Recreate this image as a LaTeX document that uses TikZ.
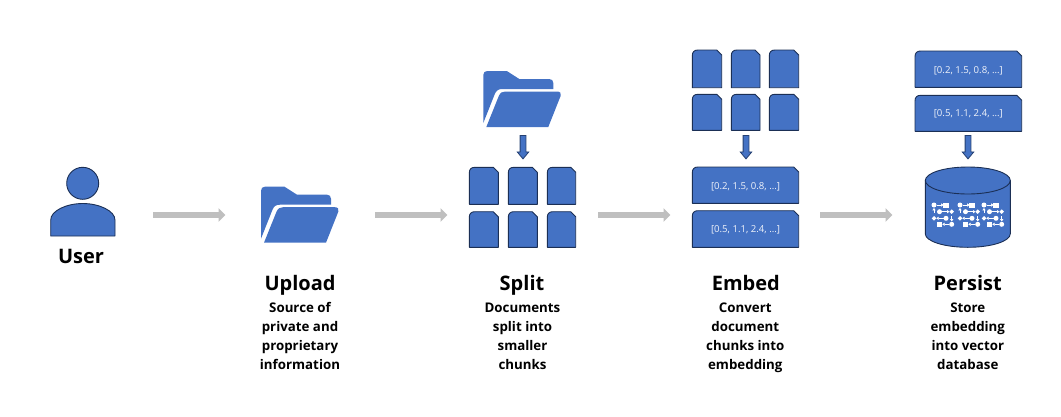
\documentclass[tikz,border=0pt]{standalone}
\usepackage{fontspec}
\setmainfont{Open Sans}
\usetikzlibrary{arrows.meta}
\definecolor{iconblue}{HTML}{4472C4}
\definecolor{edgeblue}{HTML}{1B2F55}
\definecolor{flowgray}{HTML}{BFBFBF}
\definecolor{boxtext}{HTML}{F0F3FA}
\tikzset{
  flow/.style={draw=flowgray,line width=6.5pt,-{Triangle[length=7pt,width=13.5pt]}},
  iconfill/.style={fill=iconblue,draw=none},
  iconline/.style={fill=iconblue,draw=edgeblue,line width=0.9pt,line join=round},
  pushdown/.style={fill=iconblue,draw=edgeblue!75!iconblue,line width=0.8pt},
  title/.style={font=\bfseries\fontsize{20}{20}\selectfont,text=black,anchor=base,inner sep=0pt},
  caption/.style={font=\bfseries\fontsize{13.3}{19}\selectfont,text=black,align=center,anchor=north,inner sep=0pt},
  vectext/.style={font=\fontsize{9.6}{12}\selectfont,text=boxtext,anchor=center,inner sep=0pt},
  netdot/.style={fill=white,draw=none},
  netarrow/.style={draw=white,line width=0.9pt,-{Triangle[length=2.4pt,width=3.2pt]}}
}
% snipped document shape: x1,y1,x2,y2
\newcommand{\snipdoc}[4]{\path[iconline] (#1,#4) -- (#1,#2+5.5) .. controls (#1,#2+2) and (#1+2,#2) .. (#1+5.5,#2) -- (#3-5,#2) -- (#3,#2+5) -- (#3,#4) -- cycle;}
% folder: x,y of top-left
\newcommand{\foldericon}[2]{\begin{scope}[shift={(#1,#2)}]
  \path[iconfill] (0,52) -- (0,4) .. controls (0,1.5) and (1.5,0) .. (4,0) -- (23.5,0) -- (36,8) -- (66,8) .. controls (68.5,8) and (70,9.5) .. (70,12) -- (70,18) -- (19,18) .. controls (15,18) and (13,19.5) .. (11.5,23) -- cycle;
  \path[iconfill] (3,56) -- (15.5,25) .. controls (17,21.5) and (19,20.5) .. (22,20.5) -- (74,20.5) .. controls (77,20.5) and (78.3,22.5) .. (77.3,25) -- (65,56) -- cycle;
\end{scope}}
% block arrow pointing down: centre x, top y
\newcommand{\pushdownarrow}[2]{\path[pushdown] (#1-2.9,#2) -- (#1+2.9,#2) -- (#1+2.9,#2+16.4) -- (#1+5.8,#2+16.4) -- (#1,#2+23.4) -- (#1-5.8,#2+16.4) -- (#1-2.9,#2+16.4) -- cycle;}
% network glyph group
\newcommand{\netgroup}[1]{\begin{scope}[shift={(#1,0)}]
  \fill[netdot] (934,205) circle (2.5);
  \fill[netdot] (943.4,202.5) rectangle (948.6,207.7);
  \draw[netarrow] (936.5,205) -- (943.5,205);
  \draw[netarrow] (934,212.5) -- (934,208);
  \fill[netdot] (939.5,211.7) circle (2.5);
  \draw[netarrow] (942,211.7) -- (949.4,211.7);
  \fill[netdot] (951.7,209.4) -- (954,211.7) -- (951.7,214) -- (949.4,211.7) -- cycle;
  \fill[netdot] (934,216) -- (936.3,218.3) -- (934,220.6) -- (931.7,218.3) -- cycle;
  \draw[netarrow] (943.5,218.3) -- (936.3,218.3);
  \fill[netdot] (946,218.3) circle (2.5);
  \draw[netarrow] (951.7,216) -- (951.7,221.5);
  \fill[netdot] (936.9,221.7) rectangle (942.1,226.9);
  \draw[netarrow] (949.3,224.3) -- (942.3,224.3);
  \fill[netdot] (951.7,224.3) circle (2.5);
\end{scope}}
\begin{document}
\begin{tikzpicture}[x=1pt,y=-1pt]
\useasboundingbox (0,0) rectangle (1061,416);
% user
\path[iconline] (82.7,183.3) circle (16);
\path[iconline] (50.7,236) -- (50.7,220) .. controls (50.7,211) and (66,203.5) .. (82.8,203.5) .. controls (99.5,203.5) and (115,211) .. (115,220) -- (115,236) -- cycle;
\node[title] (user) at (81,263.3) {User};
% connectors
\coordinate (f1s) at (153,215); \coordinate (f1e) at (225.5,215);
\coordinate (f2s) at (375,215); \coordinate (f2e) at (447.5,215);
\coordinate (f3s) at (598,215); \coordinate (f3e) at (670.5,215);
\coordinate (f4s) at (820,215); \coordinate (f4e) at (892.5,215);
\draw[flow] (f1s) -- (f1e);
\draw[flow] (f2s) -- (f2e);
\draw[flow] (f3s) -- (f3e);
\draw[flow] (f4s) -- (f4e);
% upload
\foldericon{261}{186.7}
\node[title] (upload) at (300,290) {Upload};
\node[caption] (uploadtext) at (300,302.5) {Source of\\private and\\proprietary\\information};
% split
\foldericon{483.3}{71}
\pushdownarrow{523}{135.5}
\snipdoc{469.3}{167.3}{498.3}{204.3}
\snipdoc{508.3}{167.3}{537.3}{204.3}
\snipdoc{547.3}{167.3}{575.7}{204.3}
\snipdoc{469.3}{211.7}{498.3}{247.3}
\snipdoc{508.3}{211.7}{537.3}{247.3}
\snipdoc{547.3}{211.7}{575.7}{247.3}
\node[title] (split) at (522,290) {Split};
\node[caption] (splittext) at (522.5,302.5) {Documents\\split into\\smaller\\chunks};
% embed
\snipdoc{692.3}{50}{721.7}{87.7}
\snipdoc{731.3}{50}{760}{87.7}
\snipdoc{769.3}{50}{798.7}{87.7}
\snipdoc{692.3}{94.3}{721.7}{130.3}
\snipdoc{731.3}{94.3}{760}{130.3}
\snipdoc{769.3}{94.3}{798.7}{130.3}
\pushdownarrow{746}{135.5}
\snipdoc{692.3}{167}{798.7}{203.3}
\snipdoc{692.3}{210.7}{798.7}{247.3}
\node[vectext] (eva) at (745.5,187) {[0.2, 1.5, 0.8, …]};
\node[vectext] (evb) at (745.5,230) {[0.5, 1.1, 2.4, …]};
\node[title] (embed) at (745.8,290) {Embed};
\node[caption] (embedtext) at (745.3,302.5) {Convert\\document\\chunks into\\embedding};
% persist
\snipdoc{915}{51}{1021.7}{87.3}
\snipdoc{915}{95.3}{1021.7}{131.3}
\node[vectext] (pva) at (968.3,70.5) {[0.2, 1.5, 0.8, …]};
\node[vectext] (pvb) at (968.3,114) {[0.5, 1.1, 2.4, …]};
\pushdownarrow{968}{135.5}
\path[iconline] (925.3,180.5) -- (925.3,233.8) .. controls (925.3,241.3) and (944.3,247.3) .. (967.8,247.3) .. controls (991.3,247.3) and (1010.3,241.3) .. (1010.3,233.8) -- (1010.3,180.5) .. controls (1010.3,173) and (991.3,167) .. (967.8,167) .. controls (944.3,167) and (925.3,173) .. (925.3,180.5) -- cycle;
\draw[edgeblue,line width=0.9pt] (925.3,180.5) .. controls (925.3,188) and (944.3,194) .. (967.8,194) .. controls (991.3,194) and (1010.3,188) .. (1010.3,180.5);
\netgroup{0}
\netgroup{26}
\netgroup{50}
\node[title] (persist) at (967.7,290) {Persist};
\node[caption] (persisttext) at (967.8,302.5) {Store\\embedding\\into vector\\database};
\end{tikzpicture}
\end{document}
